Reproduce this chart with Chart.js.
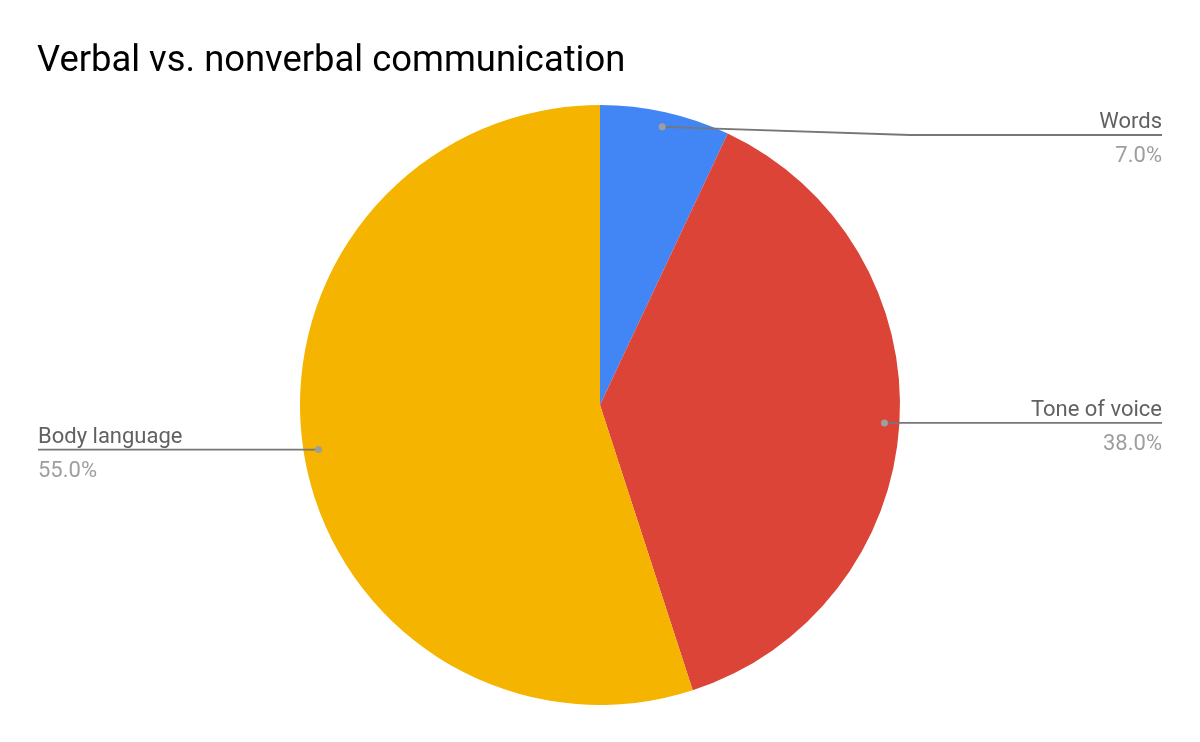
<!DOCTYPE html>
<html>
<head>
<meta charset="utf-8">
<script src="https://cdn.jsdelivr.net/npm/chart.js@4/dist/chart.umd.min.js"></script>
<style>
  html, body { margin: 0; padding: 0; background: #fff; }
  #wrap { width: 1200px; height: 742px; position: relative; }
</style>
</head>
<body>
<div id="wrap"><canvas id="pieChart"></canvas></div>
<script>
// chart data
var chartTitle = 'Verbal vs. nonverbal communication';
var labels = ['Words', 'Tone of voice', 'Body language'];
var values = [7.0, 38.0, 55.0];
var colors = ['#4285F4', '#DB4437', '#F4B400'];

// leader lines + labels, placed from the arc elements
var calloutPlugin = {
	id: 'callouts',
	afterDraw: function(chart) {
		var ctx = chart.ctx;
		var meta = chart.getDatasetMeta(0);
		var total = values.reduce(function(a, b) { return a + b; }, 0);
		ctx.save();
		// title
		ctx.fillStyle = '#000';
		ctx.font = '36.4px Roboto';
		ctx.textAlign = 'left';
		ctx.textBaseline = 'alphabetic';
		ctx.fillText(chartTitle, 37, 71);

		meta.data.forEach(function(arc, i) {
			var mid = (arc.startAngle + arc.endAngle) / 2;
			var r = arc.outerRadius * 0.95;
			var dx = arc.x + Math.cos(mid) * r;
			var dy = arc.y + Math.sin(mid) * r;
			var right = Math.cos(mid) >= 0;
			var lineY = Math.max(dy, 135);
			var edge = right ? 1162 : 38;
			var elbow = right ? 910 : 290;

			ctx.strokeStyle = '#777';
			ctx.lineWidth = 1.8;
			ctx.beginPath();
			ctx.moveTo(dx, dy);
			ctx.lineTo(elbow, lineY);
			ctx.lineTo(edge, lineY);
			ctx.stroke();

			ctx.fillStyle = '#9e9e9e';
			ctx.beginPath();
			ctx.arc(dx, dy, 3.5, 0, Math.PI * 2);
			ctx.fill();

			ctx.textAlign = right ? 'right' : 'left';
			ctx.font = '22px Roboto';
			ctx.fillStyle = '#616161';
			ctx.fillText(labels[i], edge, lineY - 7);
			ctx.fillStyle = '#9e9e9e';
			ctx.fillText((values[i] / total * 100).toFixed(1) + '%', edge, lineY + 27);
		});
		ctx.restore();
	}
};

const pc = document.getElementById('pieChart');
var pieChart = new Chart(pc, {
	type: 'pie',
	data: {
		labels: labels,
		datasets: [{
			data: values,
			backgroundColor: colors,
			borderWidth: 0
		}]
	},
	options: {
		responsive: true,
		maintainAspectRatio: false,
		animation: false,
		layout: { padding: { top: 105, bottom: 37, left: 0, right: 0 } },
		plugins: {
			legend: { display: false },
			tooltip: { enabled: false },
			title: { display: false }
		}
	},
	plugins: [calloutPlugin]
});
</script>
</body>
</html>
